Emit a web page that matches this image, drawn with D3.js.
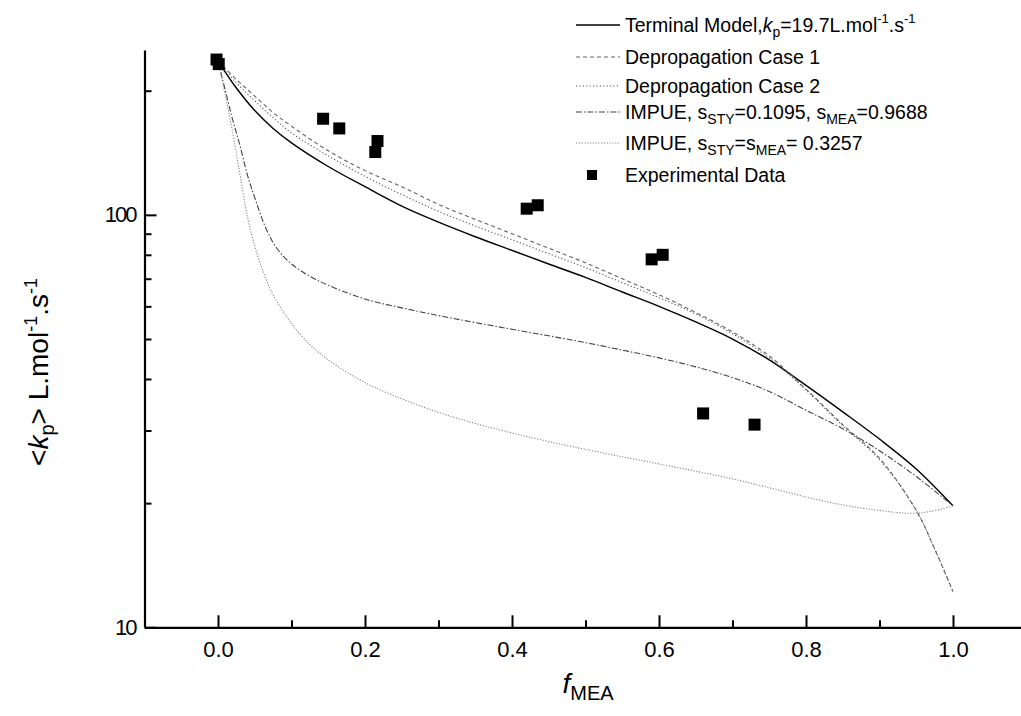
<!DOCTYPE html>
<html lang="en">
<head>
    <meta charset="UTF-8">
    <title>kp vs fMEA</title>
    <script src="https://d3js.org/d3.v7.min.js"></script>
    <style>
        body { margin: 0; background: #fff; }
        svg { display: block; font-family: "Liberation Sans", Arial, sans-serif; }
    </style>
</head>
<body>
<script>
    // f_MEA / <kp> values
    const terminalX = [0, 0.025, 0.05, 0.075, 0.1, 0.15, 0.2, 0.25, 0.3, 0.35, 0.4, 0.45, 0.5, 0.55, 0.6, 0.65, 0.7, 0.75, 0.8, 0.85, 0.9, 0.95, 1.0];
    const terminalY = [236, 203, 179, 162, 149.5, 131, 117, 105, 96, 88.5, 82, 76, 70.5, 65, 60, 55, 50, 44.5, 38.6, 33.3, 28.6, 24.2, 19.7];

    const depropX = [0, 0.025, 0.05, 0.075, 0.1, 0.15, 0.2, 0.25, 0.3, 0.35, 0.4, 0.45, 0.5, 0.55, 0.6, 0.65, 0.7, 0.75, 0.8, 0.85, 0.9, 0.95, 0.975, 1.0];
    const deprop1Y = [236, 213, 194, 177, 164, 143, 128, 117, 106, 97.5, 90, 83, 76.5, 70, 64, 58, 52, 45.5, 37.8, 31, 25.7, 19.2, 15.5, 12.2];
    const deprop2Y = [236, 209, 189, 172, 158, 139, 124, 112, 102, 94, 87, 80.5, 74.5, 68.5, 63, 57.5, 51.5, 45, 37.6, 30.8, 25.5, 19.2, 15.5, 12.2];

    const impue1X = [0, 0.01, 0.02, 0.03, 0.04, 0.05, 0.066, 0.08, 0.1, 0.125, 0.15, 0.2, 0.25, 0.3, 0.35, 0.4, 0.45, 0.5, 0.55, 0.6, 0.65, 0.7, 0.75, 0.8, 0.85, 0.9, 0.95, 1.0];
    const impue1Y = [236, 200, 170, 147, 125, 110, 92, 83, 76, 71, 67.5, 62.5, 59.5, 57, 54.8, 52.8, 50.9, 49, 47, 45, 42.8, 40.3, 37.3, 33.6, 30.3, 26.8, 23.2, 19.7];

    const impue2X = [0, 0.01, 0.02, 0.03, 0.04, 0.05, 0.06, 0.075, 0.1, 0.125, 0.15, 0.2, 0.25, 0.3, 0.35, 0.4, 0.45, 0.5, 0.55, 0.6, 0.65, 0.7, 0.75, 0.8, 0.85, 0.9, 0.94, 0.97, 1.0];
    const impue2Y = [236, 195, 158, 125, 99, 84, 74, 64, 54.5, 48.5, 44.5, 39.2, 35.8, 33.2, 31.2, 29.6, 28.2, 27, 25.9, 24.9, 23.9, 22.9, 21.8, 20.7, 19.8, 19.2, 18.9, 19.1, 19.7];

    const expX = [-0.002, 0.001, 0.143, 0.165, 0.217, 0.214, 0.42, 0.435, 0.59, 0.605, 0.66, 0.73];
    const expY = [238, 232, 171, 162, 151, 142, 103.5, 105.5, 78, 80, 33, 31];

    const xMajor = [0, 0.2, 0.4, 0.6, 0.8, 1.0];
    const xMinor = [0.1, 0.3, 0.5, 0.7, 0.9];
    const yMajor = [10, 100];
    const yMinor = [20, 30, 40, 50, 60, 70, 80, 90, 200];

    const w = 1021, h = 716;
    const svg = d3.select("body").append("svg")
        .attr("width", w)
        .attr("height", h);

    const x = d3.scaleLinear().domain([-0.1, 1.1]).range([144.5, 1026.5]);
    const y = d3.scaleLog().domain([10, 251]).range([627.3, 50]);

    // axes (ticks point inward)
    const gx = svg.append("g").attr("transform", "translate(0," + y(10) + ")");
    gx.call(d3.axisBottom(x).tickValues(xMajor).tickSize(-12).tickSizeOuter(0)
        .tickPadding(14).tickFormat(d3.format(".1f")));
    gx.append("g").call(d3.axisBottom(x).tickValues(xMinor).tickSize(-7).tickSizeOuter(0).tickFormat(""))
        .select(".domain").remove();

    const gy = svg.append("g").attr("transform", "translate(" + x(-0.1) + ",0)");
    gy.call(d3.axisLeft(y).tickValues(yMajor).tickSize(-12).tickSizeOuter(0)
        .tickPadding(9).tickFormat(d3.format("d")));
    gy.append("g").call(d3.axisLeft(y).tickValues(yMinor).tickSize(-7).tickSizeOuter(0).tickFormat(""))
        .select(".domain").remove();

    svg.selectAll(".domain").attr("stroke", "#000").attr("stroke-width", 2.2);
    svg.selectAll(".tick line").attr("stroke", "#000").attr("stroke-width", 2);
    gx.selectAll(".tick text").attr("font-size", 22).attr("fill", "#000")
        .attr("font-family", "Liberation Sans, Arial, sans-serif");
    gy.selectAll(".tick text").attr("font-size", 22).attr("fill", "#000")
        .attr("letter-spacing", "-2px").attr("font-family", "Liberation Sans, Arial, sans-serif");

    // curves
    const line = d3.line().x(d => x(d[0])).y(d => y(d[1])).curve(d3.curveCatmullRom.alpha(0.5));
    const series = [
        { xs: terminalX, ys: terminalY, color: "#000", width: 1.4, dash: null },
        { xs: depropX, ys: deprop1Y, color: "#666", width: 1.1, dash: "4,3" },
        { xs: depropX, ys: deprop2Y, color: "#555", width: 1.1, dash: "1.2,2.2" },
        { xs: impue1X, ys: impue1Y, color: "#444", width: 1.1, dash: "6,2,1.5,2" },
        { xs: impue2X, ys: impue2Y, color: "#888", width: 1.1, dash: "1.2,1.6" }
    ];
    series.forEach(s => {
        svg.append("path")
            .datum(s.xs.map((v, i) => [v, s.ys[i]]))
            .attr("d", line)
            .attr("fill", "none")
            .attr("stroke", s.color)
            .attr("stroke-width", s.width)
            .attr("stroke-dasharray", s.dash);
    });

    // experimental points
    const sq = 12;
    svg.selectAll("rect.exp")
        .data(expX.map((v, i) => [v, expY[i]]))
        .enter().append("rect")
        .attr("class", "exp")
        .attr("x", d => x(d[0]) - sq / 2)
        .attr("y", d => y(d[1]) - sq / 2)
        .attr("width", sq)
        .attr("height", sq)
        .attr("fill", "#000");

    // axis titles
    const yt = svg.append("text")
        .attr("transform", "translate(48,372) rotate(-90)")
        .attr("text-anchor", "middle")
        .attr("font-size", 28);
    yt.append("tspan").text("<");
    yt.append("tspan").attr("font-style", "italic").text("k");
    yt.append("tspan").attr("font-size", 20).attr("dy", 6).text("p");
    yt.append("tspan").attr("dy", -6).text("> L.mol");
    yt.append("tspan").attr("font-size", 18).attr("dy", -11).text("-1");
    yt.append("tspan").attr("dy", 11).text(".s");
    yt.append("tspan").attr("font-size", 18).attr("dy", -11).text("-1");

    const xt = svg.append("text")
        .attr("x", 588).attr("y", 693)
        .attr("text-anchor", "middle")
        .attr("font-size", 28);
    xt.append("tspan").attr("font-style", "italic").text("f");
    xt.append("tspan").attr("font-size", 20).attr("dy", 7).text("MEA");

    // legend
    const legend = svg.append("g").attr("font-size", 19.5);
    const rows = [
        { y: 25, color: "#000", width: 1.4, dash: null },
        { y: 57, color: "#666", width: 1.1, dash: "4,3" },
        { y: 86, color: "#555", width: 1.1, dash: "1.2,2.2" },
        { y: 112, color: "#444", width: 1.1, dash: "6,2,1.5,2" },
        { y: 143, color: "#888", width: 1.1, dash: "1.2,1.6" }
    ];
    rows.forEach(r => {
        legend.append("line")
            .attr("x1", 576).attr("x2", 620)
            .attr("y1", r.y).attr("y2", r.y)
            .attr("stroke", r.color)
            .attr("stroke-width", r.width)
            .attr("stroke-dasharray", r.dash);
    });
    legend.append("rect").attr("x", 587).attr("y", 170).attr("width", 10).attr("height", 10).attr("fill", "#000");

    const tx = 625;
    const t1 = legend.append("text").attr("x", tx).attr("y", 32);
    t1.append("tspan").text("Terminal  Model,");
    t1.append("tspan").attr("font-style", "italic").text("k");
    t1.append("tspan").attr("font-size", 14).attr("dy", 5).text("p");
    t1.append("tspan").attr("dy", -5).text("=19.7L.mol");
    t1.append("tspan").attr("font-size", 13).attr("dy", -9).text("-1");
    t1.append("tspan").attr("dy", 9).text(".s");
    t1.append("tspan").attr("font-size", 13).attr("dy", -9).text("-1");

    legend.append("text").attr("x", tx).attr("y", 64).text("Depropagation Case 1");
    legend.append("text").attr("x", tx).attr("y", 93).text("Depropagation Case 2");

    const t4 = legend.append("text").attr("x", tx).attr("y", 119);
    t4.append("tspan").text("IMPUE, s");
    t4.append("tspan").attr("font-size", 14).attr("dy", 5).text("STY");
    t4.append("tspan").attr("dy", -5).text("=0.1095, s");
    t4.append("tspan").attr("font-size", 14).attr("dy", 5).text("MEA");
    t4.append("tspan").attr("dy", -5).text("=0.9688");

    const t5 = legend.append("text").attr("x", tx).attr("y", 150);
    t5.append("tspan").text("IMPUE, s");
    t5.append("tspan").attr("font-size", 14).attr("dy", 5).text("STY");
    t5.append("tspan").attr("dy", -5).text("=s");
    t5.append("tspan").attr("font-size", 14).attr("dy", 5).text("MEA");
    t5.append("tspan").attr("dy", -5).text("= 0.3257");

    legend.append("text").attr("x", tx).attr("y", 182).text("Experimental Data");
</script>
</body>
</html>
